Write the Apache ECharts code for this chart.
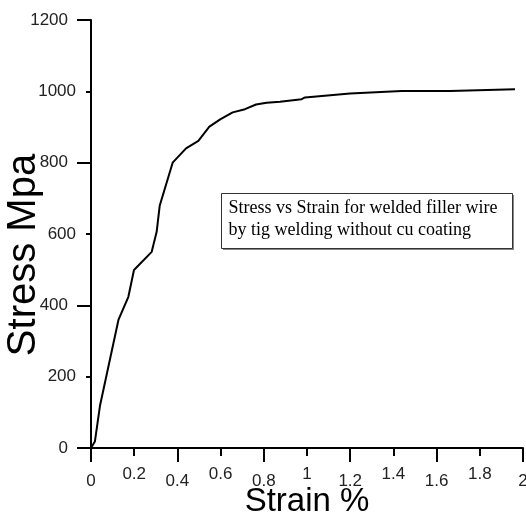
<!DOCTYPE html>
<html>
<head>
<meta charset="utf-8">
<script src="https://cdn.jsdelivr.net/npm/echarts@6/dist/echarts.min.js"></script>
<style>html,body{margin:0;padding:0;background:#fff;}#c{width:526px;height:516px;}</style>
</head>
<body>
<div id="c"></div>
<script>
const strain = [0, 0.003, 0.018, 0.042, 0.127, 0.173, 0.199, 0.281, 0.304, 0.318, 0.378, 0.44, 0.497, 0.548, 0.60, 0.656, 0.713, 0.764, 0.813, 0.875, 0.975, 0.991, 1.199, 1.438, 1.662, 1.963];
const stress = [0, 2, 18, 120, 359, 424, 499, 550, 606, 679, 800, 840, 861, 901, 922, 941, 950, 963, 968, 971, 978, 983, 994, 1001, 1001, 1006];
const xMin = 0, xMax = 2, xMajor = 0.4, xMinor = 0.2;
const yMin = 0, yMax = 1200, yMajor = 400, yMinor = 200;
const xName = 'Strain %';
const yName = 'Stress Mpa';
const noteLines = ['Stress vs Strain for welded filler wire', 'by tig welding without cu coating'];

const grid = {left: 91, top: 20, right: 3, bottom: 68, containLabel: false, outerBoundsMode: 'none'};
const labelFont = {fontFamily: 'Liberation Sans, Arial, sans-serif', fontSize: 17, color: '#222', hideOverlap: false};
function isMajor(v, step) { return Math.abs(Math.round(v / step) * step - v) < 1e-6; }
function fmt(v) { return String(Math.round(v * 10) / 10); }

const chart = echarts.init(document.getElementById('c'), null, {renderer: 'canvas'});
chart.setOption({
  animation: false,
  backgroundColor: '#fff',
  grid: [Object.assign({}, grid), Object.assign({}, grid)],
  xAxis: [
    {
      type: 'value', gridIndex: 0, min: xMin, max: xMax, interval: xMajor,
      name: xName, nameLocation: 'middle', nameGap: 37, nameMoveOverlap: false,
      nameTextStyle: {fontFamily: 'Liberation Sans, Arial, sans-serif', fontSize: 33, color: '#000'},
      axisLine: {show: true, onZero: false, lineStyle: {color: '#000', width: 2}},
      axisTick: {show: true, inside: false, length: 14, lineStyle: {color: '#000', width: 2}},
      axisLabel: Object.assign({margin: 25, formatter: fmt}, labelFont),
      splitLine: {show: false}
    },
    {
      type: 'value', gridIndex: 1, min: xMin, max: xMax, interval: xMinor,
      axisLine: {show: false, onZero: false},
      axisTick: {show: true, inside: false, length: 8, lineStyle: {color: '#000', width: 2}},
      axisLabel: Object.assign({margin: 18, formatter: v => isMajor(v, xMajor) ? '' : fmt(v)}, labelFont),
      splitLine: {show: false}
    }
  ],
  yAxis: [
    {
      type: 'value', gridIndex: 0, min: yMin, max: yMax, interval: yMajor,
      name: yName, nameLocation: 'middle', nameGap: 47, nameRotate: 90, nameMoveOverlap: false,
      nameTextStyle: {fontFamily: 'Liberation Sans, Arial, sans-serif', fontSize: 40, color: '#000', padding: [0, 42, 0, 0]},
      axisLine: {show: true, onZero: false, lineStyle: {color: '#000', width: 2}},
      axisTick: {show: true, inside: false, length: 14, lineStyle: {color: '#000', width: 2}},
      axisLabel: Object.assign({margin: 23, formatter: v => String(v)}, labelFont),
      splitLine: {show: false}
    },
    {
      type: 'value', gridIndex: 1, min: yMin, max: yMax, interval: yMinor,
      axisLine: {show: false, onZero: false},
      axisTick: {show: true, inside: false, length: 5, lineStyle: {color: '#000', width: 2}},
      axisLabel: Object.assign({margin: 15, formatter: v => isMajor(v, yMajor) ? '' : String(v)}, labelFont),
      splitLine: {show: false}
    }
  ],
  series: [{
    type: 'line', xAxisIndex: 0, yAxisIndex: 0,
    data: strain.map((x, i) => [x, stress[i]]),
    showSymbol: false, symbol: 'none',
    lineStyle: {color: '#000', width: 2},
    z: 5
  }],
  graphic: [{
    type: 'group', left: 221, top: 193,
    children: [
      {type: 'rect', shape: {x: 1.5, y: 1.5, width: 291, height: 55}, style: {fill: '#888', stroke: null}},
      {type: 'rect', shape: {x: 0, y: 0, width: 291, height: 55}, style: {fill: '#fff', stroke: '#333', lineWidth: 1}},
      {type: 'text', x: 7, y: 4, style: {text: noteLines.join('\n'), fontFamily: 'Liberation Serif, Times New Roman, serif', fontSize: 18, lineHeight: 22, fill: '#000'}}
    ]
  }]
});
</script>
</body>
</html>
